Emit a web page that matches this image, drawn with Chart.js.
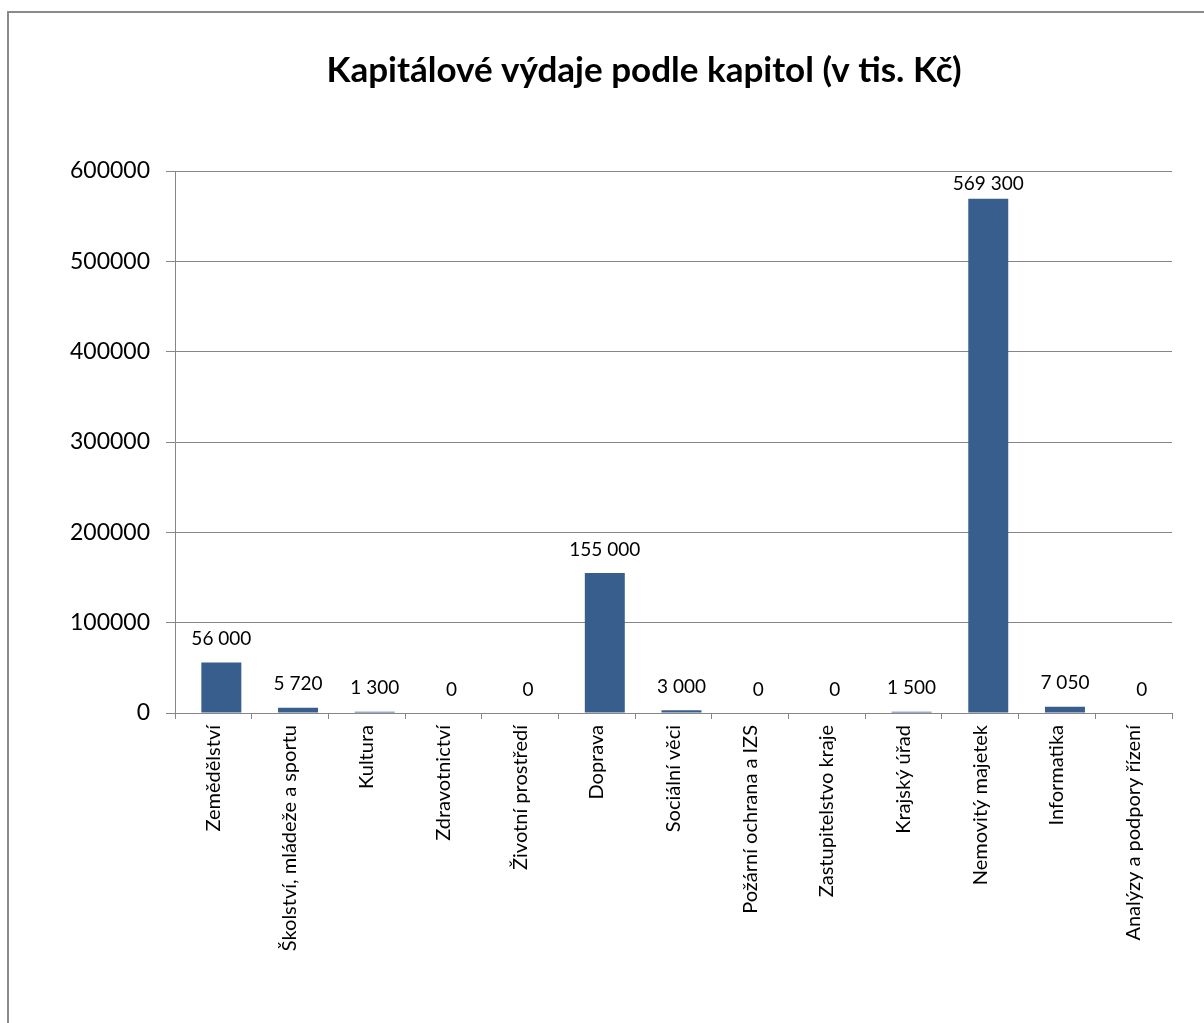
<!DOCTYPE html>
<html>
<head>
<meta charset="utf-8">
<script src="https://cdn.jsdelivr.net/npm/chart.js@4"></script>
<style>
    html, body { margin: 0; padding: 0; background: #fff; }
    #frame {
        position: absolute; left: 7px; top: 11px; width: 1300px; height: 1100px;
        border-left: 2px solid #8a8a8a; border-top: 2px solid #8a8a8a;
    }
    #chart { position: absolute; left: 0; top: 0; }
</style>
</head>
<body>
<div id="frame"></div>
<canvas id="chart" width="1204" height="1023"></canvas>
<script>
// Chart data
const chartTitle = 'Kapitálové výdaje podle kapitol (v tis. Kč)';
const categories = [
    'Zemědělství',
    'Školství, mládeže a sportu',
    'Kultura',
    'Zdravotnictví',
    'Životní prostředí',
    'Doprava',
    'Sociální věci',
    'Požární ochrana a IZS',
    'Zastupitelstvo kraje',
    'Krajský úřad',
    'Nemovitý majetek',
    'Informatika',
    'Analýzy a podpory řízení'
];
const values = [56000, 5720, 1300, 0, 0, 155000, 3000, 0, 0, 1500, 569300, 7050, 0];
// empty series in the original workbook, it only shifts the bars right
const emptySeries = categories.map(() => null);
const yTicks = [0, 100000, 200000, 300000, 400000, 500000, 600000];

const fontFamily = 'Lato, "Open Sans", sans-serif';
const gridColor = '#868686';

// thousands separated by a space, like the original
function fmt(v) {
    return String(v).replace(/\B(?=(\d{3})+(?!\d))/g, ' ');
}

// draws the value above each bar
const valueLabels = {
    id: 'valueLabels',
    afterDatasetsDraw(chart) {
        const ctx = chart.ctx;
        const meta = chart.getDatasetMeta(1);
        ctx.save();
        ctx.font = '19px ' + fontFamily;
        ctx.fillStyle = '#000';
        ctx.textAlign = 'center';
        ctx.textBaseline = 'bottom';
        meta.data.forEach((bar, i) => {
            const y = Math.max(bar.y - 14, chart.chartArea.top + 22);
            ctx.fillText(fmt(values[i]), bar.x, y);
        });
        ctx.restore();
    }
};

// chart title
const titlePlugin = {
    id: 'titlePlugin',
    afterDraw(chart) {
        const ctx = chart.ctx;
        ctx.save();
        ctx.font = 'bold 35px ' + fontFamily;
        ctx.fillStyle = '#000';
        ctx.textAlign = 'center';
        ctx.textBaseline = 'alphabetic';
        ctx.fillText(chartTitle, 644, 82);
        ctx.restore();
    }
};

new Chart(document.getElementById('chart'), {
    type: 'bar',
    data: {
        labels: categories,
        datasets: [{
            data: emptySeries,
            backgroundColor: 'rgba(0,0,0,0)',
            categoryPercentage: 0.417,
            barPercentage: 2.5
        }, {
            data: values,
            backgroundColor: '#385E8D',
            borderWidth: 0,
            categoryPercentage: 0.417,
            barPercentage: 2.5
        }]
    },
    options: {
        responsive: false,
        animation: false,
        layout: { padding: { top: 171, right: 32, left: 0, bottom: 0 } },
        plugins: {
            legend: { display: false },
            title: { display: false },
            tooltip: { enabled: false }
        },
        scales: {
            x: {
                grid: { drawOnChartArea: false, drawTicks: true, tickLength: 6, color: gridColor },
                border: { color: gridColor, width: 1 },
                ticks: {
                    autoSkip: false,
                    minRotation: 90,
                    maxRotation: 90,
                    padding: 6,
                    color: '#000',
                    font: { family: fontFamily, size: 20 }
                },
                afterFit(scale) { scale.height = 310; }
            },
            y: {
                min: 0,
                max: 600000,
                afterBuildTicks(scale) { scale.ticks = yTicks.map(v => ({ value: v })); },
                grid: { color: gridColor, tickLength: 9 },
                border: { color: gridColor, width: 1 },
                ticks: {
                    padding: 16,
                    color: '#000',
                    font: { family: fontFamily, size: 23 },
                    callback: v => String(v)
                },
                afterFit(scale) { scale.width = 175; }
            }
        }
    },
    plugins: [valueLabels, titlePlugin]
});
</script>
</body>
</html>
